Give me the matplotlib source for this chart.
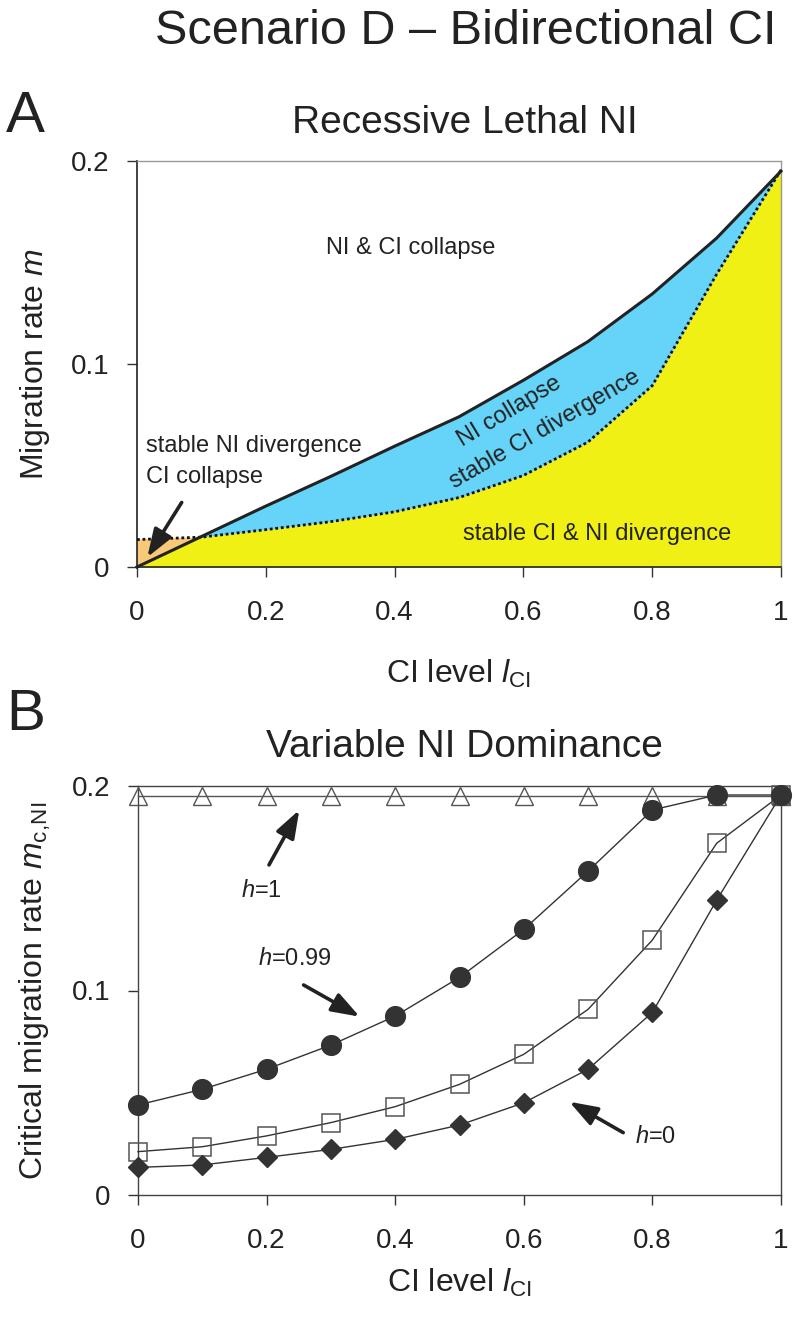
import matplotlib
matplotlib.use('Agg')
import matplotlib.pyplot as plt
import numpy as np

plt.rcParams['font.family'] = ['Liberation Sans', 'DejaVu Sans']
plt.rcParams['mathtext.fontset'] = 'custom'
plt.rcParams['mathtext.rm'] = 'Liberation Sans'
plt.rcParams['mathtext.it'] = 'Liberation Sans:italic'
plt.rcParams['mathtext.bf'] = 'Liberation Sans:bold'

# ---------------- data ----------------
ci_level = [0.0, 0.1, 0.2, 0.3, 0.4, 0.5, 0.6, 0.7, 0.8, 0.9, 1.0]

# Panel A: boundaries
ci_collapse_boundary = [0.0, 0.015, 0.030, 0.0445, 0.0595, 0.074, 0.092, 0.111, 0.1345, 0.162, 0.195]
ni_collapse_boundary = [0.0135, 0.0147, 0.0184, 0.0223, 0.0272, 0.0342, 0.0451, 0.0615, 0.0893, 0.1442, 0.1956]

# Panel B: critical migration rates by dominance h
m_h1 = [0.195] * 11
m_h099 = [0.044, 0.0517, 0.0615, 0.0733, 0.0875, 0.1064, 0.1299, 0.1584, 0.1883, 0.1956, 0.1956]
m_hmid = [0.0212, 0.0236, 0.0289, 0.0354, 0.0432, 0.0541, 0.0688, 0.0908, 0.1247, 0.172, 0.1956]
m_h0 = [0.0135, 0.0147, 0.0184, 0.0223, 0.0272, 0.0342, 0.0451, 0.0615, 0.0893, 0.1442, 0.1956]

x_ticks = [0, 0.2, 0.4, 0.6, 0.8, 1.0]
x_ticklabels = ['0', '0.2', '0.4', '0.6', '0.8', '1']
y_ticks = [0, 0.1, 0.2]
y_ticklabels = ['0', '0.1', '0.2']

TXT = '#222222'
W, H = 797, 1319


def rect(l, t, r, b):
    return [l / W, 1 - b / H, (r - l) / W, (b - t) / H]


fig = plt.figure(figsize=(W / 100, H / 100), dpi=100)
axA = fig.add_axes(rect(137, 161, 781, 567))
axB = fig.add_axes(rect(138, 786, 781, 1195))

# ---------------- figure texts ----------------
fig.text(466 / W, 1 - 44 / H, 'Scenario D \u2013 Bidirectional CI', ha='center', va='baseline',
         fontsize=35, color=TXT)
fig.text(6 / W, 1 - 132 / H, 'A', ha='left', va='baseline', fontsize=42, color=TXT)
fig.text(6 / W, 1 - 730 / H, 'B', ha='left', va='baseline', fontsize=42, color=TXT)
fig.text(465 / W, 1 - 133 / H, 'Recessive Lethal NI', ha='center', va='baseline', fontsize=28, color=TXT)
fig.text(464 / W, 1 - 757 / H, 'Variable NI Dominance', ha='center', va='baseline', fontsize=28, color=TXT)

# ---------------- Panel A ----------------
x = np.array(ci_level)
s = np.array(ci_collapse_boundary)
d = np.array(ni_collapse_boundary)

axA.fill_between(x, 0, d, color='#F0F014', lw=0)
axA.fill_between(x, s, d, where=d >= s, interpolate=True, color='#F9C97A', lw=0)
axA.fill_between(x, d, s, where=s >= d, interpolate=True, color='#66D4F8', lw=0)
axA.plot(x, d, color='#111111', lw=2.0, linestyle=(0, (1, 1)), clip_on=False, zorder=3)
axA.plot(x, s, color='#222222', lw=2.2, clip_on=False, zorder=4)

axA.set_xlim(0, 1)
axA.set_ylim(0, 0.2)
axA.set_xticks(x_ticks)
axA.set_xticklabels(x_ticklabels)
axA.set_yticks(y_ticks)
axA.set_yticklabels(y_ticklabels)

axA.text(0.425, 0.154, 'NI & CI collapse', ha='center', va='baseline', fontsize=17, color=TXT)
axA.text(0.014, 0.0568, 'stable NI divergence', ha='left', va='baseline', fontsize=17, color=TXT)
axA.text(0.014, 0.0412, 'CI collapse', ha='left', va='baseline', fontsize=17, color=TXT)
axA.text(0.715, 0.0133, 'stable CI & NI divergence', ha='center', va='baseline', fontsize=17, color=TXT)
axA.text(0.578, 0.0764, 'NI collapse', ha='center', va='center', rotation=31,
         rotation_mode='anchor', fontsize=17, color=TXT)
axA.text(0.634, 0.0678, 'stable CI divergence', ha='center', va='center', rotation=30,
         rotation_mode='anchor', fontsize=17, color=TXT)

arrow_kw = dict(arrowstyle='-|>,head_length=0.85,head_width=0.3', lw=2.6, color='#222222',
                shrinkA=0, shrinkB=0, mutation_scale=20)
axA.annotate('', xy=(0.016, 0.0048), xytext=(0.0694, 0.0318), arrowprops=arrow_kw)

# ---------------- Panel B ----------------
lc = '#333333'
axB.plot(x, m_h1, color='#555555', lw=1.0, marker='^', ms=13.5, mfc='none', mec='#555555',
         mew=1.0, clip_on=False, zorder=3)
axB.plot(x, m_hmid, color=lc, lw=1.0, marker='s', ms=13.2, mfc='none', mec='#555555',
         mew=1.1, clip_on=False, zorder=4)
axB.plot(x, m_h0, color=lc, lw=1.0, marker='D', ms=10.5, mfc='#333333', mec='#333333',
         clip_on=False, zorder=5)
axB.plot(x, m_h099, color=lc, lw=1.0, marker='o', ms=14.2, mfc='#333333', mec='#333333',
         clip_on=False, zorder=6)

axB.set_xlim(0, 1)
axB.set_ylim(0, 0.2)
axB.set_xticks(x_ticks)
axB.set_xticklabels(x_ticklabels)
axB.set_yticks(y_ticks)
axB.set_yticklabels(y_ticklabels)

axB.annotate('', xy=(0.2509, 0.1883), xytext=(0.2037, 0.1614), arrowprops=arrow_kw)
axB.annotate('', xy=(0.3448, 0.0872), xytext=(0.2575, 0.1027), arrowprops=arrow_kw)
axB.annotate('', xy=(0.6708, 0.0456), xytext=(0.7546, 0.0305), arrowprops=arrow_kw)
axB.text(0.1913, 0.1459, r'$h$=1', ha='center', va='baseline', fontsize=17, color=TXT)
axB.text(0.2434, 0.1125, r'$h$=0.99', ha='center', va='baseline', fontsize=17, color=TXT)
axB.text(0.805, 0.0253, r'$h$=0', ha='center', va='baseline', fontsize=17, color=TXT)

# ---------------- axes styling ----------------
for ax, ylab in [(axA, r'Migration rate $m$'),
                 (axB, r'Critical migration rate $m_{\mathrm{c,\!NI}}$')]:
    ax.tick_params(axis='both', direction='out', length=7, width=1.0, colors='#333333',
                   labelsize=20, labelcolor=TXT)
    ax.tick_params(axis='x', pad=17)
    ax.tick_params(axis='y', pad=13)
    ax.set_xlabel(r'CI level $l_{\mathrm{CI}}$', fontsize=23, color=TXT, va='baseline')
    ax.set_ylabel(ylab, fontsize=23, color=TXT, va='baseline')

axA.xaxis.set_label_coords(0.5, -(683 - 567) / 406)
axB.xaxis.set_label_coords(0.5, -(1292 - 1195) / 409)
axA.yaxis.set_label_coords((43 - 137) / 644, 0.5)
axB.yaxis.set_label_coords((43 - 138) / 643, 0.5)

for side in ['left', 'bottom']:
    axA.spines[side].set_color('#222222')
    axA.spines[side].set_linewidth(1.2)
for side in ['top', 'right']:
    axA.spines[side].set_color('#999999')
    axA.spines[side].set_linewidth(1.0)
for side in ['left', 'bottom', 'top', 'right']:
    axB.spines[side].set_color('#444444')
    axB.spines[side].set_linewidth(1.0)

fig.savefig('out.png', dpi=100)
